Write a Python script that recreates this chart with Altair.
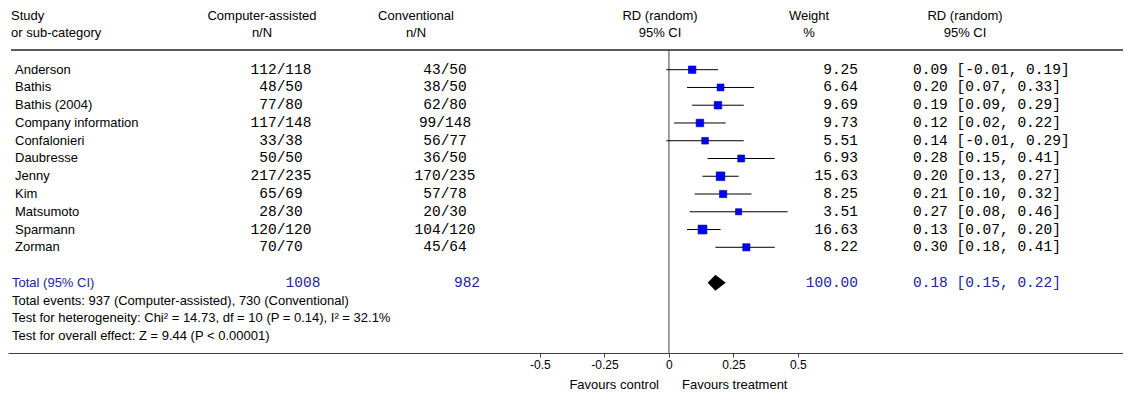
import altair as alt
import pandas as pd

# ---------------- data ----------------
studies = ["Anderson", "Bathis", "Bathis (2004)", "Company information", "Confalonieri",
           "Daubresse", "Jenny", "Kim", "Matsumoto", "Sparmann", "Zorman"]
ca_events = [112, 48, 77, 117, 33, 50, 217, 65, 28, 120, 70]
ca_total = [118, 50, 80, 148, 38, 50, 235, 69, 30, 120, 70]
cv_events = [43, 38, 62, 99, 56, 36, 170, 57, 20, 104, 45]
cv_total = [50, 50, 80, 148, 77, 50, 235, 78, 30, 120, 64]
rd = [0.09, 0.20, 0.19, 0.12, 0.14, 0.28, 0.20, 0.21, 0.27, 0.13, 0.30]
rd_lo = [-0.01, 0.07, 0.09, 0.02, -0.01, 0.15, 0.13, 0.10, 0.08, 0.07, 0.18]
rd_hi = [0.19, 0.33, 0.29, 0.22, 0.29, 0.41, 0.27, 0.32, 0.46, 0.20, 0.41]
weights = [9.25, 6.64, 9.69, 9.73, 5.51, 6.93, 15.63, 8.25, 3.51, 16.63, 8.22]

total_label = "Total (95% CI)"
total_ca = "1008"
total_cv = "982"
total_weight = 100.00
total_rd, total_lo, total_hi = 0.18, 0.15, 0.22

footer_lines = [
    "Total events: 937 (Computer-assisted), 730 (Conventional)",
    "Test for heterogeneity: Chi\u00b2 = 14.73, df = 10 (P = 0.14), I\u00b2 = 32.1%",
    "Test for overall effect: Z = 9.44 (P < 0.00001)",
]
header_study = ["Study", "or sub-category"]
header_ca = ["Computer-assisted", "n/N"]
header_cv = ["Conventional", "n/N"]
header_rd = ["RD (random)", "95% CI"]
header_w = ["Weight", "%"]
header_ci = ["RD (random)", "95% CI"]
axis_ticks = [-0.5, -0.25, 0, 0.25, 0.5]
favours = ["Favours control", "Favours treatment"]

# ---------------- layout constants ----------------
W, H = 1115, 345
SANS = "Liberation Sans"
MONO = "Liberation Mono"
FS = 13
FM = 14.5
BLUE_TXT = "#23239b"
ROW_TOTAL = 12
ROW_FOOT = 13

def fmt(v):
    return f"{v:.2f}"

rows = pd.DataFrame({
    "row": list(range(len(studies))),
    "study": studies,
    "ca": [f"{e}/{n}" for e, n in zip(ca_events, ca_total)],
    "cv": [f"{e}/{n}" for e, n in zip(cv_events, cv_total)],
    "rd": rd, "lo": rd_lo, "hi": rd_hi, "w": weights,
    "wtxt": [fmt(w) for w in weights],
    "citxt": [f"{fmt(a)} [{fmt(b)}, {fmt(c)}]" for a, b, c in zip(rd, rd_lo, rd_hi)],
})
total = pd.DataFrame({
    "row": [ROW_TOTAL], "label": [total_label], "ca": [total_ca], "cv": [total_cv],
    "wtxt": [fmt(total_weight)],
    "citxt": [f"{fmt(total_rd)} [{fmt(total_lo)}, {fmt(total_hi)}]"],
})
HALF = 0.45
diamond = pd.DataFrame({
    "x": [total_lo, total_rd, total_hi],
    "y": [ROW_TOTAL, ROW_TOTAL - HALF, ROW_TOTAL],
    "y2": [ROW_TOTAL, ROW_TOTAL + HALF, ROW_TOTAL],
})
foot = pd.DataFrame({"row": [ROW_FOOT + i for i in range(len(footer_lines))], "t": footer_lines})
hdr = pd.DataFrame({
    "i": [0, 1], "study": header_study, "ca": header_ca, "cv": header_cv,
    "rdh": header_rd, "wh": header_w, "cih": header_ci,
})
fav = pd.DataFrame({"t": favours})

xscale = alt.Scale(domain=[-2.562, 1.760], zero=False, nice=False)
yscale = alt.Scale(domain=[-3.474, 15.952], reverse=True, zero=False, nice=False)
xaxis = alt.Axis(values=axis_ticks, labelExpr="toString(datum.value)", title=None,
                 grid=False, domainColor="#404040", tickColor="#404040", tickSize=4,
                 labelPadding=2, labelFont=SANS, labelFontSize=12, labelColor="#000000",
                 domainWidth=1)
Y = alt.Y("row:Q", scale=yscale, axis=None)

def txt(df, field, x, align, font=SANS, size=FS, color="#000000"):
    m = alt.Chart(df).mark_text(align=align, baseline="middle", font=font, fontSize=size, color=color)
    return m.encode(x=alt.value(x), y=Y, text=f"{field}:N")

base_rows = alt.Chart(rows)

ci_rules = base_rows.mark_rule(color="#000000", strokeWidth=1).encode(
    x=alt.X("lo:Q", scale=xscale, axis=xaxis), x2="hi:Q", y=Y)
squares = base_rows.mark_square(color="#0000ff", opacity=1, stroke="#00008b", strokeWidth=0.6).encode(
    x=alt.X("rd:Q", scale=xscale, axis=xaxis), y=Y,
    size=alt.Size("w:Q", scale=alt.Scale(domain=[3.5, 16.6], range=[38, 78]), legend=None))
dia = alt.Chart(diamond).mark_area(color="#000000", opacity=1).encode(
    x=alt.X("x:Q", scale=xscale, axis=xaxis),
    y=alt.Y("y:Q", scale=yscale, axis=None), y2="y2:Q")

zero_line = alt.Chart(fav).transform_filter("datum.t == 'Favours control'").transform_calculate(
    z="0").mark_rule(color="#404040", strokeWidth=1).encode(
    x=alt.X("z:Q", scale=xscale, axis=xaxis), y=alt.value(42), y2=alt.value(H))
header_line = alt.Chart(fav).transform_filter("datum.t == 'Favours control'").mark_rule(
    color="#5a5a5a", strokeWidth=2).encode(x=alt.value(3), x2=alt.value(W), y=alt.value(42))

def htxt(field, x, align):
    layers = []
    for i, yv in enumerate([8, 25]):
        layers.append(alt.Chart(hdr).transform_filter(f"datum.i == {i}").mark_text(
            align=align, baseline="middle", font=SANS, fontSize=FS, color="#000000").encode(
            x=alt.value(x), y=alt.value(yv), text=f"{field}:N"))
    return layers

headers = (htxt("study", 3, "left") + htxt("ca", 254, "center") + htxt("cv", 408, "center")
           + htxt("rdh", 652, "center") + htxt("wh", 801, "center") + htxt("cih", 957, "center"))

fav_l = alt.Chart(fav).transform_filter("datum.t == 'Favours control'").mark_text(
    align="right", baseline="middle", font=SANS, fontSize=FS, color="#000000").encode(
    x=alt.value(651), y=alt.value(377), text="t:N")
fav_r = alt.Chart(fav).transform_filter("datum.t == 'Favours treatment'").mark_text(
    align="left", baseline="middle", font=SANS, fontSize=FS, color="#000000").encode(
    x=alt.value(674), y=alt.value(377), text="t:N")

layers = [header_line, zero_line] + headers + [
    txt(rows, "study", 7, "left"),
    txt(rows, "ca", 273, "center", font=MONO, size=FM),
    txt(rows, "cv", 437, "center", font=MONO, size=FM),
    txt(rows, "wtxt", 850, "right", font=MONO, size=FM),
    txt(rows, "citxt", 905, "left", font=MONO, size=FM),
    ci_rules, squares, dia,
    txt(total, "label", 4, "left", color=BLUE_TXT),
    txt(total, "ca", 295, "center", font=MONO, size=FM, color=BLUE_TXT),
    txt(total, "cv", 459, "center", font=MONO, size=FM, color=BLUE_TXT),
    txt(total, "wtxt", 850, "right", font=MONO, size=FM, color=BLUE_TXT),
    txt(total, "citxt", 905, "left", font=MONO, size=FM, color=BLUE_TXT),
    txt(foot, "t", 4, "left"),
    fav_l, fav_r,
]

chart = alt.layer(*layers).properties(
    width=W, height=H,
    padding={"left": 0, "top": 0, "right": 0, "bottom": 41},
    autosize=alt.AutoSizeParams(type="none"),
    background="#ffffff",
).configure_view(strokeWidth=0)

chart.save("out.html", embed_options={"renderer": "svg", "actions": False})
